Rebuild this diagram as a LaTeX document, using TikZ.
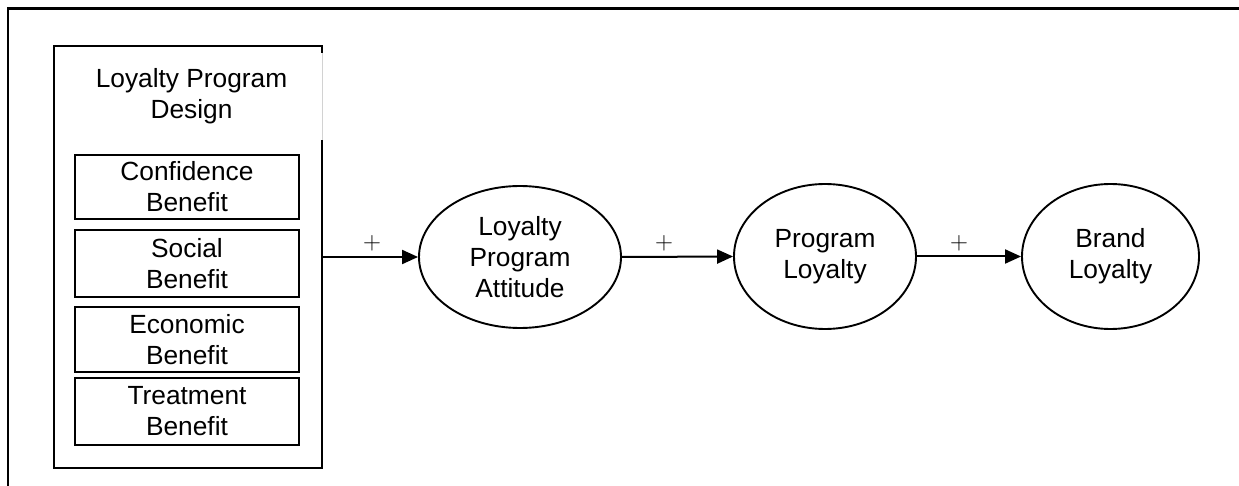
\documentclass[tikz,border=0pt]{standalone}
\usepackage{fontspec}
\setmainfont{Liberation Sans}
\usetikzlibrary{arrows.meta,shapes.geometric}
\begin{document}
\begin{tikzpicture}[x=1pt,y=-1pt,
  txt/.style={font=\fontsize{26.3}{31}\selectfont, align=center, inner sep=0pt},
  subbox/.style={txt, draw, line width=2pt, minimum width=224pt},
  oval/.style={txt, ellipse, draw, line width=1.9pt},
  conn/.style={line width=2pt, -{Triangle[length=16pt,width=14pt]}},
  sign/.style={font=\fontsize{29}{31}\selectfont, inner sep=0pt}
]
\useasboundingbox (0,0) rectangle (1239,486);
% outer frame (partly cut)
\draw[line width=2.2pt] (8,486) -- (8,8.5) -- (1239,8.5);
% design container
\node[minimum width=268pt, minimum height=422pt, inner sep=0pt] (design) at (188,257) {};
\draw[line width=2.2pt] (design.north east) ++(0,7) -- (design.north east) -- (design.north west) -- (design.south west) -- (design.south east) -- ([yshift=-94pt]design.north east);
\draw[line width=0.7pt, gray!35] ([yshift=-7pt]design.north east) -- ([yshift=-94pt]design.north east);
\node[txt] (title) at (191.5,96) {Loyalty Program\\Design};
\node[subbox, minimum height=64pt] (conf) at (187,187) {Confidence\\Benefit};
\node[subbox, minimum height=67pt] (soc) at (187,263.5) {Social\\Benefit};
\node[subbox, minimum height=65pt] (eco) at (187,339.5) {Economic\\Benefit};
\node[subbox, minimum height=67pt] (treat) at (187,411.5) {Treatment\\Benefit};
% constructs
\node[oval, minimum width=202pt, minimum height=142pt] (lpa) at (520,257) {Loyalty\\Program\\Attitude};
\node[oval, minimum width=182pt, minimum height=145pt] (pl) at (825,256.5) {Program\\Loyalty};
\node[oval, minimum width=177pt, minimum height=145pt] (bl) at (1110.5,256.5) {Brand\\Loyalty};
% connectors
\draw[conn] (design.east) -- (lpa.west);
\draw[conn] (lpa.east) -- (pl.west);
\draw[conn] (pl.east) -- (bl.west);
\node[sign] (s1) at (372,243.5) {$+$};
\node[sign] (s2) at (664,243.5) {$+$};
\node[sign] (s3) at (959,243.5) {$+$};
\end{tikzpicture}
\end{document}
